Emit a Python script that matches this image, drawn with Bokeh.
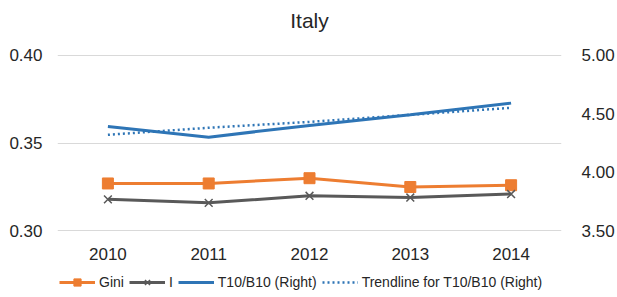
from bokeh.plotting import figure
from bokeh.layouts import column
from bokeh.models import (Range1d, LinearAxis, FixedTicker, NumeralTickFormatter,
                          Legend, LegendItem, Label)
from bokeh.embed import file_html
from bokeh.resources import INLINE

years = ["2010", "2011", "2012", "2013", "2014"]
gini = [0.327, 0.327, 0.330, 0.325, 0.326]
i_idx = [0.318, 0.316, 0.320, 0.319, 0.321]
t10b10 = [4.39, 4.30, 4.40, 4.49, 4.59]
trend = [4.32, 4.38, 4.43, 4.49, 4.55]
left_ticks = [0.30, 0.35, 0.40]
right_ticks = [3.50, 4.00, 4.50, 5.00]
title_text = "Italy"

FONT = "Liberation Sans"
TXT = "#262626"
ORANGE = "#ED7D31"
GRAY = "#595959"
BLUE = "#2E75B6"
W = 617


def strip(height):
    f = figure(width=W, height=height, x_range=Range1d(0, 1), y_range=Range1d(0, height),
               x_axis_type=None, y_axis_type=None,
               output_backend="svg", toolbar_location=None,
               min_border_left=0, min_border_right=0, min_border_top=0,
               min_border_bottom=0)
    f.grid.visible = False
    f.outline_line_color = None
    f.border_fill_color = "white"
    f.background_fill_color = "white"
    return f


# title strip
top = strip(40)
top.add_layout(Label(x=0.5, y=20, text=title_text, text_align="center",
                     text_baseline="middle", text_font=FONT, text_font_size="21px",
                     text_color=TXT))

# main chart
p = figure(width=W, height=226, x_range=years, y_range=Range1d(0.2997, 0.4003),
           output_backend="svg", toolbar_location=None,
           min_border_left=57, min_border_right=47, min_border_top=14,
           min_border_bottom=35)
p.outline_line_color = None
p.background_fill_color = "white"
p.border_fill_color = "white"
p.extra_y_ranges = {"right": Range1d(3.4955, 5.0045)}

for ax in [p.xaxis[0], p.yaxis[0]]:
    ax.axis_line_color = None
    ax.major_tick_line_color = None
    ax.minor_tick_line_color = None
    ax.major_label_text_font = FONT
    ax.major_label_text_font_size = "17px"
    ax.major_label_text_color = TXT
p.yaxis[0].ticker = FixedTicker(ticks=left_ticks)
p.yaxis[0].formatter = NumeralTickFormatter(format="0.00")
p.yaxis[0].major_label_standoff = 9
p.xaxis[0].major_label_standoff = 10

rax = LinearAxis(y_range_name="right", ticker=FixedTicker(ticks=right_ticks),
                 formatter=NumeralTickFormatter(format="0.00"))
rax.axis_line_color = None
rax.major_tick_line_color = None
rax.minor_tick_line_color = None
rax.major_label_text_font = FONT
rax.major_label_text_font_size = "17px"
rax.major_label_text_color = TXT
rax.major_label_standoff = 14
p.add_layout(rax, "right")

p.xgrid.grid_line_color = None
p.ygrid.grid_line_color = "#d9d9d9"
p.ygrid.grid_line_width = 1


def draw(fig, xs, ys_g, ys_i, ys_t, ys_tr, right=None):
    kw = {"y_range_name": right} if right else {}
    g_line = fig.line(xs, ys_g, line_color=ORANGE, line_width=3)
    g_mark = fig.scatter(xs, ys_g, marker="square", size=11, fill_color=ORANGE,
                         line_color=ORANGE)
    i_line = fig.line(xs, ys_i, line_color=GRAY, line_width=3)
    i_mark = fig.scatter(xs, ys_i, marker="x", size=11, line_color=GRAY,
                         line_width=1.5)
    t_line = fig.line(xs, ys_t, line_color=BLUE, line_width=3, **kw)
    tr_line = fig.line(xs, ys_tr, line_color=BLUE, line_width=2.5,
                       line_dash="2 3", **kw)
    return g_line, g_mark, i_line, i_mark, t_line, tr_line


draw(p, years, gini, i_idx, t10b10, trend, right="right")

# legend strip (proxy renderers placed off-screen)
q = strip(31)
off = [-100, -99]
g_line, g_mark, i_line, i_mark, t_line, tr_line = draw(q, off, off, off, off, off)

legend = Legend(items=[
    LegendItem(label="Gini", renderers=[g_line, g_mark]),
    LegendItem(label="I", renderers=[i_line, i_mark]),
    LegendItem(label="T10/B10 (Right)", renderers=[t_line]),
    LegendItem(label="Trendline for T10/B10 (Right)", renderers=[tr_line]),
], orientation="horizontal", location=(2, 6))
legend.label_text_font = FONT
legend.label_text_font_size = "14px"
legend.label_text_color = TXT
legend.glyph_width = 36
legend.glyph_height = 18
legend.label_standoff = 4
legend.label_width = 1
legend.spacing = 5
legend.padding = 0
legend.margin = 0
legend.border_line_color = None
legend.background_fill_alpha = 0
q.add_layout(legend, "center")

layout = column(top, p, q, spacing=0)
open("out.html", "w").write(file_html(layout, INLINE))
